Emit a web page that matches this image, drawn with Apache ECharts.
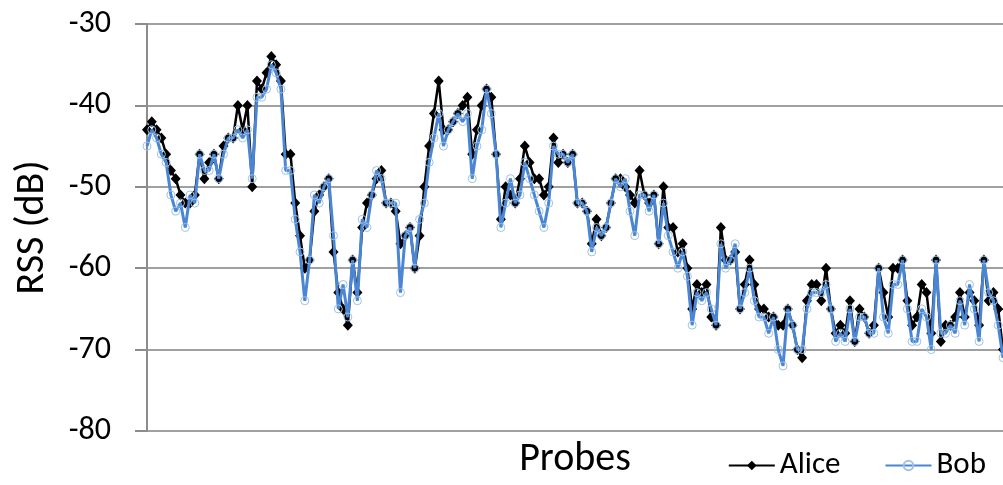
<!DOCTYPE html>
<html>
<head>
<meta charset="utf-8">
<style>
  html, body { margin: 0; padding: 0; background: #fff; }
  #chart { width: 1003px; height: 485px; }
</style>
<script src="https://cdn.jsdelivr.net/npm/echarts@6/dist/echarts.min.js"></script>
</head>
<body>
<div id="chart"></div>
<script>
const alice = [
  -43,-42,-43,-44,-46,-48,-49,-51,-52,-52,
  -51,-46,-49,-47,-46,-49,-45,-44,-44,-40,
  -43,-40,-50,-37,-38,-36,-34,-35,-37,-46,
  -46,-52,-56,-60,-59,-53,-51,-50,-49,-58,
  -63,-65,-67,-59,-63,-55,-52,-51,-49,-48,
  -52,-52,-53,-57,-56,-55,-60,-56,-50,-45,
  -41,-37,-43,-43,-42,-41,-40,-39,-46,-43,
  -40,-38,-39,-46,-54,-50,-51,-52,-49,-45,
  -47,-49,-49,-51,-50,-44,-47,-46,-47,-46,
  -52,-52,-53,-57,-54,-56,-55,-52,-49,-49,
  -50,-51,-52,-48,-51,-52,-51,-57,-50,-55,
  -55,-58,-57,-60,-65,-62,-63,-62,-66,-67,
  -55,-59,-59,-58,-65,-62,-59,-62,-65,-65,
  -66,-66,-67,-67,-65,-67,-70,-71,-64,-62,
  -62,-64,-60,-65,-68,-67,-68,-64,-69,-65,
  -66,-68,-67,-60,-63,-66,-60,-60,-59,-64,
  -67,-66,-62,-63,-68,-59,-69,-67,-67,-66,
  -63,-66,-63,-64,-67,-59,-64,-63,-65,-70
];
const bob = [
  -45,-43,-44,-46,-47,-51,-53,-52,-55,-51,
  -52,-46,-48,-48,-46,-49,-46,-44,-44,-43,
  -44,-43,-49,-39,-39,-38,-35,-36,-38,-48,
  -48,-54,-58,-64,-59,-51,-52,-50,-49,-56,
  -65,-62,-66,-59,-64,-54,-55,-51,-48,-49,
  -52,-52,-52,-63,-56,-55,-60,-54,-52,-47,
  -44,-41,-45,-43,-42,-41,-42,-41,-49,-45,
  -43,-38,-41,-46,-55,-52,-49,-52,-51,-47,
  -49,-51,-53,-55,-52,-45,-46,-46,-47,-46,
  -52,-52,-53,-58,-55,-56,-55,-52,-49,-50,
  -49,-53,-56,-51,-51,-53,-51,-57,-52,-56,
  -58,-60,-58,-61,-67,-63,-64,-63,-65,-67,
  -57,-60,-59,-57,-65,-63,-60,-64,-66,-66,
  -68,-66,-70,-72,-65,-67,-70,-70,-65,-63,
  -63,-63,-62,-65,-69,-68,-69,-65,-69,-66,
  -66,-68,-68,-60,-66,-68,-62,-62,-59,-65,
  -69,-69,-65,-66,-70,-59,-68,-68,-67,-68,
  -64,-67,-62,-65,-69,-59,-63,-64,-67,-71
];
const probes = alice.map((_, i) => String(i + 1));
const yTicks = { min: -80, max: -30, interval: 10 };

const FONT = 'Carlito, Lato, "Open Sans", sans-serif';
const chart = echarts.init(document.getElementById('chart'), null, { renderer: 'canvas' });
chart.setOption({
  animation: false,
  backgroundColor: '#ffffff',
  grid: { left: 147, right: 0, top: 24, bottom: 53, containLabel: false },
  legend: {
    right: 12, top: 445,
    itemWidth: 46, itemHeight: 12, itemGap: 44,
    textStyle: { fontFamily: FONT, fontSize: 31, color: '#000' },
    data: ['Alice', 'Bob']
  },
  xAxis: {
    type: 'category',
    data: probes,
    boundaryGap: false,
    name: 'Probes',
    nameLocation: 'middle',
    nameGap: 9,
    nameTextStyle: { fontFamily: FONT, fontSize: 40, color: '#000', verticalAlign: 'top' },
    axisLine: { show: false },
    axisTick: { show: false },
    axisLabel: { show: false },
    splitLine: { show: false }
  },
  yAxis: {
    type: 'value',
    min: yTicks.min, max: yTicks.max, interval: yTicks.interval,
    name: 'RSS (dB)',
    nameLocation: 'middle',
    nameGap: 94,
    nameTextStyle: { fontFamily: FONT, fontSize: 40, color: '#000' },
    axisLine: { show: true, lineStyle: { color: '#8c8c8c', width: 2 } },
    axisTick: { show: true, length: 12, lineStyle: { color: '#8c8c8c', width: 2 } },
    axisLabel: { fontFamily: FONT, fontSize: 32, color: '#000', margin: 36 },
    splitLine: { show: true, lineStyle: { color: '#a0a0a0', width: 2 } }
  },
  series: [
    {
      name: 'Alice',
      type: 'line',
      data: alice,
      symbol: 'diamond',
      symbolSize: [10, 11],
      showAllSymbol: true,
      lineStyle: { color: '#000', width: 2.5 },
      itemStyle: { color: '#000', borderColor: '#000', borderWidth: 0 },
      z: 2
    },
    {
      name: 'Bob',
      type: 'line',
      data: bob,
      symbol: 'circle',
      symbolSize: 8,
      showAllSymbol: true,
      lineStyle: { color: '#4a86d4', width: 3 },
      itemStyle: { color: 'rgba(255,255,255,0)', borderColor: '#9dc3e6', borderWidth: 1 },
      z: 3
    }
  ]
});
</script>
</body>
</html>
